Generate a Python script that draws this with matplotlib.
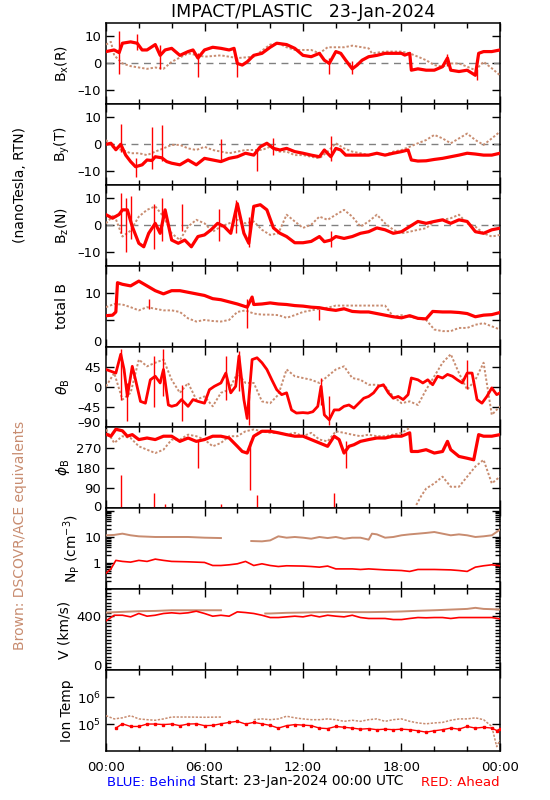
import numpy as np
import matplotlib
matplotlib.use('Agg')
import matplotlib.pyplot as plt
from matplotlib.ticker import MultipleLocator, NullLocator, LogLocator, FixedFormatter
from matplotlib.transforms import ScaledTranslation

nan = np.nan
RED = '#ff0000'
BROWN = '#c88c70'

# half-hour time grid (hours since 00:00 UTC)
hrs = [0, 0.5, 1, 1.5, 2, 2.5, 3, 3.5, 4, 4.5, 5, 5.5, 6, 6.5, 7, 7.5, 8, 8.5,
       9, 9.5, 10, 10.5, 11, 11.5, 12, 12.5, 13, 13.5, 14, 14.5, 15, 15.5, 16,
       16.5, 17, 17.5, 18, 18.5, 19, 19.5, 20, 20.5, 21, 21.5, 22, 22.5, 23,
       23.5, 24]

# ---- Bx (R) ----
bx_t = [0, 0.5, 0.8, 1, 1.5, 1.9, 2.2, 2.5, 3, 3.3, 3.6, 4, 4.5, 5, 5.3, 5.6, 6,
        6.5, 7, 7.5, 7.8, 8, 8.3, 8.6, 9, 9.5, 10, 10.4, 11, 11.5, 12, 12.5, 13,
        13.3, 13.6, 14, 14.3, 14.6, 15, 15.3, 15.6, 16, 16.5, 17, 17.5, 18, 18.2,
        18.5, 18.6, 19, 19.5, 20, 20.5, 20.8, 21, 21.5, 22, 22.5, 22.7, 23, 23.5, 24]
bx_red = [4.4, 5, 4, 7.5, 8, 7.5, 5, 5, 7, 3, 5, 5.6, 3, 4.4, 5, 2, 5, 6, 5.6, 5,
          5.6, 0, -0.6, 0.6, 3, 3.75, 6, 7.5, 7, 5.6, 3, 2.5, 3.75, 1.2, 0, 4.4,
          3.75, 1.2, -2, -0.6, 1.2, 2.5, 3, 3.75, 3.75, 3.75, 3.1, 3.75, -2.5, -2,
          -2.5, -2.5, -1.2, 2, -2.5, -3, -2.5, -4.4, 3.75, 4.4, 4.4, 5]
bx_bt = [0, 0.3, 0.5, 1, 1.5, 2, 2.5, 3, 3.5, 4, 5, 6, 7, 8, 9, 10, 10.5, 11, 11.5,
         12, 12.5, 13, 13.5, 14, 14.5, 15, 16, 16.2, 17, 18, 18.5, 19, 19.5, 20,
         20.5, 21, 21.5, 22, 22.5, 23, 23.5, 24]
bx_brown = [7, 8, 3, 0, -1, -1.5, -2, -1.5, -2, 0.6, 3.75, 2.5, 3, 2, 2.5, 7, 7.5,
            6, 5, 5, 5, 3.75, 6, 6, 6, 6.6, 5.6, 3.75, 4.4, 4.4, 3.75, 2.5, 1.2,
            -0.6, -1.2, 0, 0, -1.2, -2.5, 0.6, -1.8, -4.4]
bx_spikes = [(0.8, -4, 12), (1.9, 5, 11), (3.3, -2, 7), (5.6, -5, 4), (8.0, -5, 2),
             (13.6, -4, 2), (15.0, -4, 1), (20.8, -1, 3.5), (22.6, -6, -2)]

# ---- By (T) ----
by_t = [0, 0.3, 0.6, 0.9, 1.2, 1.5, 1.8, 2.2, 2.5, 2.8, 3, 3.4, 3.7, 4, 4.5, 5,
        5.5, 6, 6.5, 7, 7.5, 8, 8.5, 9, 9.4, 9.8, 10.2, 10.6, 11, 11.5, 12, 12.5,
        13, 13.3, 13.7, 14, 14.3, 14.6, 15, 15.5, 16, 16.5, 17, 17.5, 18, 18.4,
        18.6, 19, 19.5, 20, 20.5, 21, 21.5, 22, 22.5, 23, 23.5, 24]
by_red = [0, 0.4, -2, 0, -4, -6.4, -8.3, -7.6, -5.8, -6, -4.6, -5, -6.4, -7, -7.6,
          -5.8, -7.6, -5.2, -5.8, -6.4, -5.2, -4.6, -3.3, -4, -0.9, 0.4, -1.5,
          -2.1, -1.5, -2.7, -3.3, -4, -4.6, -2.1, -4.6, -1.5, -2.1, -4, -4, -4,
          -4, -3.3, -4, -3.3, -2.7, -2.1, -5.8, -6.2, -6.1, -5.6, -5.2, -4.6, -4,
          -3.3, -3.6, -4, -4, -3.3]
by_brown = [1.6, -1.5, -2.1, -3.3, -3.3, -4, -2.7, -1.5, -0.2, -0.2, -1.5, -2.1,
            -0.9, -2.1, -2.7, -3.3, -2.7, -2.1, -2.1, -2.1, -0.9, -2.7, -2.7, -4,
            -4, -4.6, -5.2, -2.7, 0.4, -1.5, -2.7, -3.3, -4, -3.3, -4, -2.7, -2.1,
            -0.9, 0.4, 1.6, 3.5, 2.2, 0.4, 2.2, 4, 1.6, -0.2, 2.2, 4.7]
by_spikes = [(0.9, -3, 7.7), (1.8, -12, -5), (2.8, -9, 6.5), (3.4, -6, 7),
             (7.0, -6, 2), (9.2, -10, -2), (10.2, -4, 2.2), (13.7, -6, 3)]

# ---- Bz (N) ----
bz_t = [0, 0.4, 0.8, 1, 1.3, 1.6, 2, 2.3, 2.6, 3, 3.3, 3.6, 4, 4.4, 4.8, 5.2, 5.6,
        6, 6.4, 6.8, 7.2, 7.6, 8, 8.4, 8.7, 9, 9.4, 9.8, 10.2, 10.6, 11, 11.5, 12,
        12.5, 13, 13.3, 13.7, 14, 14.5, 15, 15.5, 16, 16.5, 17, 17.5, 18, 18.5,
        19, 19.5, 20, 20.5, 21, 21.5, 22, 22.5, 23, 23.5, 24]
bz_red = [3.9, 2.6, 4, 5.7, 5.7, -0.5, -6.7, -8, -3, 0.7, -3, 5.7, -5.5, -6.7,
          -5.5, -8, -4.2, -3.6, -1.7, 0.7, -0.5, -3, 8, -3, -6.7, 7, 7.6, 5.7, -1,
          -3, -4.2, -6.5, -6.5, -6, -4.2, -6.1, -5.5, -4.2, -4.9, -4.2, -3, -2.4,
          -1, -1.7, -3, -2.4, -0.5, 1.4, 0.7, 1.4, 2, 0.7, 2, 1.4, -2.4, -3, -1.7,
          -1.1]
bz_brown = [0.7, 3.9, -4.2, -2, 3.2, 5.7, 7, 3.2, -3, -5.5, -0.5, 2, 0.7, -2.4,
            -0.5, 0.7, 2, 0.7, 1.4, -1.7, -3.6, -3, 3.9, 1.4, -1, 0.2, 3.2, 2, 3.9,
            5.7, 3.2, -0.5, 1.4, 3.9, 0.7, -1.7, -3, -2.4, -1.7, -1.1, 1.4, 2, 2.6,
            3.9, 0.7, -0.5, -3, -4.2, -3.6]
bz_spikes = [(0.9, -3, 12), (1.2, -10, 10), (1.5, -5, 11), (2.9, -9, 8),
             (3.4, -6, 10), (4.6, -2, 8), (6.9, -6, 6), (7.9, -3, 9.5),
             (8.7, -8, 3), (13.7, -8, -2)]

# ---- total B ----
bt_t = [0, 0.4, 0.6, 0.7, 1, 1.5, 2, 2.5, 3, 3.5, 4, 4.5, 5, 5.5, 6, 6.5, 7, 7.5,
        8, 8.3, 8.6, 8.9, 9, 9.5, 10, 10.5, 11, 11.5, 12, 12.5, 13, 13.5, 14,
        14.5, 15, 15.5, 16, 16.5, 17, 17.5, 18, 18.5, 19, 19.5, 19.9, 20.5, 21,
        21.5, 22, 22.5, 23, 23.5, 24]
bt_red = [5.8, 5.9, 6.5, 12, 11.7, 11.4, 12.3, 11.4, 10.5, 9.9, 10.5, 10.5, 10.2,
          9.9, 9.6, 9, 8.8, 8.4, 8, 7.7, 7.4, 9.3, 7.9, 8, 8.2, 8, 7.9, 7.7, 7.6,
          7.4, 7.3, 7, 6.8, 7.1, 6.6, 6.5, 6.5, 6.2, 5.9, 5.6, 5.4, 5.8, 5.3, 5.2,
          6.6, 6.5, 6.5, 6.4, 6.2, 5.6, 5.9, 6, 6.4]
bt_brown = [7.4, 8, 7.9, 7.4, 6.8, 7.4, 7.1, 6.8, 6.8, 6.5, 5.3, 4.7, 5, 4.8, 4.7,
            5, 6.5, 6.8, 6.2, 6, 6, 5.9, 5.4, 5.9, 6.5, 6.8, 7.1, 7.3, 7.7, 7.7,
            7.7, 7.7, 7.7, 7.7, 7.7, 5.6, 5.9, 5.6, 5.3, 5, 3.2, 2.9, 2.9, 3.5, 3.5,
            4.1, 4.4, 3.8, 3.2]
bt_spikes = [(2.6, 7, 9), (8.6, 3.5, 9), (13.0, 5, 7)]

# ---- theta_B ----
th_t = [0, 0.3, 0.6, 0.9, 1.1, 1.3, 1.6, 1.8, 2.1, 2.4, 2.7, 3, 3.3, 3.5, 3.8, 4,
        4.3, 4.6, 5, 5.3, 5.6, 6, 6.3, 6.6, 7, 7.3, 7.6, 7.9, 8.1, 8.4, 8.6, 8.9,
        9.2, 9.5, 9.8, 10.1, 10.4, 10.7, 11, 11.3, 11.6, 12, 12.3, 12.6, 12.9,
        13.1, 13.3, 13.6, 13.9, 14.2, 14.5, 14.8, 15.1, 15.4, 15.7, 16, 16.3,
        16.6, 16.9, 17.2, 17.5, 17.8, 18.1, 18.4, 18.6, 19, 19.3, 19.6, 19.9,
        20.2, 20.5, 20.8, 21.1, 21.4, 21.7, 22, 22.3, 22.6, 22.9, 23.2, 23.5,
        23.8, 24]
th_red = [39, 35, 31, 73, 39, -21, 46, 16, -32, -36, 16, 24, 9, 39, -40, -43, -40,
          -28, -43, -28, -32, -36, -6, 1.5, 9, 31, -13, 1.5, 69, -28, -70, 61, 65,
          54, 39, 16, -6, -17, -13, -51, -58, -57, -58, -55, -43, 1.5, -62, -73,
          -51, -51, -43, -40, -47, -36, -25, -21, -13, 1.5, 5, -13, -25, -21, -28,
          -17, 20, 16, 9, 16, 5, 24, 20, 28, 24, 16, 9, 31, 31, -28, -36, -21, -2,
          -17, -13]
th_brown = [1.5, 31, -28, -13, 61, 46, 54, 61, 16, -13, 9, -28, -21, -43, -13, -6,
            31, 9, 9, -32, -36, -17, 39, 24, 20, 16, 9, 24, 39, 46, 20, 16, 5, 5,
            1.5, -21, -36, -32, -40, -6, 24, 54, 73, 31, -6, 16, 54, -62, -43]
th_spikes = [(0.9, -30, 85), (1.3, -75, 10), (2.9, -45, 70), (3.5, -20, 85),
             (4.6, -75, 5), (7.3, -30, 70), (8.1, -10, 80), (8.7, -85, -20),
             (13.1, -40, 20), (13.6, -85, -20), (22.0, -5, 60)]

# ---- phi_B ----
ph_t = [0, 0.3, 0.6, 1, 1.3, 1.6, 2, 2.5, 3, 3.5, 4, 4.5, 5, 5.5, 6, 6.5, 7, 7.5,
        8, 8.3, 8.6, 9, 9.5, 10, 10.5, 11, 11.5, 12, 12.5, 13, 13.5, 13.9, 14.2,
        14.5, 14.8, 15.1, 15.5, 16, 16.5, 17, 17.5, 18, 18.5, 18.6, 19, 19.5, 20,
        20.5, 20.8, 21, 21.5, 22, 22.4, 22.7, 23, 23.5, 24]
ph_red = [330, 321, 352, 345, 321, 328, 306, 313, 306, 321, 321, 298, 313, 298,
          306, 321, 321, 313, 276, 253, 246, 321, 343, 343, 336, 328, 321, 321,
          306, 291, 276, 321, 306, 246, 276, 283, 298, 306, 313, 313, 321, 321,
          336, 253, 253, 261, 246, 253, 298, 261, 231, 223, 216, 328, 321, 321, 328]
ph_bt = [0, 0.5, 1, 1.5, 2, 2.5, 3, 3.5, 4, 4.5, 5, 5.5, 6, 6.5, 7, 7.5, 8, 8.5, 9,
         9.5, 10, 10.5, 11, 11.5, 12, 12.5, 13, 13.5, 14, 14.5, 15, 15.5, 16, 16.5,
         17, 17.5, 18, 18.5, 18.7, 18.9, 19.2, 19.5, 20, 20.5, 21, 21.5, 22, 22.5,
         23, 23.5, 24]
ph_brown = [351, 291, 321, 313, 276, 261, 246, 261, 306, 306, 328, 321, 306, 276,
            291, 321, 321, 343, 351, 343, 336, 336, 328, 336, 321, 336, 306, 298,
            343, 336, 328, 321, 328, 321, 321, 328, 336, 358, nan, 15, 55, 88, 111,
            141, 96, 96, 141, 186, 216, 111, 141]
ph_spikes = [(0.9, 0, 150), (2.9, 0, 70), (3.6, 0, 20), (5.6, 180, 300),
             (7.0, 0, 20), (8.8, 80, 300), (9.2, 0, 60), (13.9, 0, 70),
             (14.6, 180, 300)]

# ---- proton density ----
np_t = [0, 0.3, 0.6, 1, 1.5, 2, 2.5, 3, 3.5, 4, 5, 6, 6.5, 7, 7.5, 8, 8.5, 9, 9.5,
        10, 10.5, 11, 12, 12.5, 13, 13.5, 14, 15, 15.5, 16, 17, 18, 18.5, 19, 20,
        21, 21.5, 22, 22.5, 23, 23.5, 24]
np_red = [0.41, 0.6, 1.27, 1.16, 1.09, 1.27, 1.16, 1.42, 1.27, 1.16, 1.12, 1.06,
          0.81, 0.81, 0.86, 0.94, 1.16, 0.81, 0.94, 0.81, 0.74, 0.79, 0.77, 0.74,
          0.70, 0.77, 0.6, 0.6, 0.57, 0.6, 0.55, 0.52, 0.48, 0.57, 0.57, 0.55,
          0.52, 0.48, 0.7, 0.79, 0.86, 0.79]
np_bt = [0, 0.5, 1, 1.5, 2, 3, 4, 5, 6, 7, 8, 8.85, 9.5, 10, 10.5, 11, 11.5, 12,
         12.5, 13, 13.5, 14, 14.5, 15, 15.5, 16, 16.2, 16.5, 17, 17.5, 18, 18.5,
         19, 19.5, 20, 20.5, 21, 21.5, 22, 22.5, 23, 23.5, 24]
np_brown = [11.6, 12, 13.4, 11.6, 10.6, 10, 10, 10, 9.4, 9.1, nan, 7, 6.8, 7.4,
            10.6, 9.4, 10, 9.4, 8.6, 10, 9.1, 10, 8.6, 9.4, 9.4, 7.9, 13.4, 12.6,
            9.4, 10, 11.6, 12.6, 13.4, 14.3, 15.5, 13.4, 11.6, 12.6, 11.6, 10, 10.6,
            11.6, 19.1]

# ---- bulk speed ----
v_red = [365, 407, 407, 395, 420, 400, 407, 420, 425, 420, 425, 437, 420, 400,
         407, 400, 432, 427, 420, 407, 390, 390, 395, 400, 395, 407, 395, 407, 400,
         395, 407, 390, 383, 383, 383, 375, 375, 383, 390, 388, 390, 390, 383, 390,
         390, 390, 390, 390, 380]
v_bt = [0, 1, 2, 3, 4, 5, 6, 7, 8, 9.7, 10, 11, 12, 13, 14, 15, 16, 17, 18, 19, 20,
        21, 22, 22.5, 23, 23.5, 24]
v_brown = [427, 432, 437, 439, 444, 444, 444, 444, nan, 420, 420, 425, 427, 430,
           432, 430, 430, 432, 435, 440, 444, 449, 454, 462, 454, 452, 449]

# ---- ion temperature ----
tp_t = [0.6, 1, 1.5, 2, 2.5, 3, 3.5, 4, 4.5, 5, 5.5, 6, 6.5, 7, 7.5, 8, 8.5, 9, 9.5,
        10, 10.5, 11, 11.5, 12, 12.5, 13, 13.5, 14, 14.5, 15, 15.5, 16, 16.5, 17,
        17.5, 18, 18.5, 19, 19.5, 20, 20.5, 21, 21.5, 22, 22.5, 23, 23.5, 23.8, 24]
tp_red = [70800, 102000, 81300, 81300, 100000, 100000, 95500, 100000, 87100,
          100000, 102000, 87100, 89100, 102000, 115000, 126000, 100000, 115000,
          102000, 89100, 70800, 87100, 95500, 91200, 87100, 70800, 67600, 81300,
          75900, 70800, 64600, 67600, 61700, 64600, 61700, 64600, 61700, 56200,
          50100, 56200, 61700, 70800, 64600, 81300, 70800, 75900, 70800, 57500,
          64600]
tp_bt = [0, 0.5, 1, 1.5, 2, 2.5, 3, 3.5, 4, 5, 6, 7, 8, 9, 9.5, 10, 10.5, 11, 11.5,
         12, 12.5, 13, 13.5, 14, 14.5, 15, 15.5, 16, 16.5, 17, 17.5, 18, 18.5, 19,
         19.5, 20, 20.5, 21, 21.5, 22, 22.5, 23, 23.5, 23.8, 24]
tp_brown = [204000, 155000, 170000, 204000, 155000, 145000, 138000, 155000,
            182000, 182000, 178000, 182000, nan, 145000, 155000, 145000, 155000,
            195000, 170000, 155000, 145000, 145000, 155000, 145000, 126000, 138000,
            126000, 145000, 155000, 126000, 145000, 155000, 126000, 110000, 102000,
            110000, 115000, 138000, 155000, 155000, 170000, 145000, 81300, 14500,
            25700]

hour_ticks = [0, 6, 12, 18, 24]
hour_labels = ['00:00', '06:00', '12:00', '18:00', '00:00']


def style(ax, ylim, yticks, ylabels):
    ax.set_xlim(0, 24)
    ax.set_ylim(*ylim)
    ax.set_yticks(yticks)
    ax.set_yticklabels(ylabels)
    ax.set_xticks(hour_ticks)
    ax.xaxis.set_minor_locator(MultipleLocator(2))
    ax.tick_params(which='both', direction='in', top=True, right=True,
                   labelsize=9.5, width=1)
    ax.tick_params(which='major', length=6)
    ax.tick_params(which='minor', length=3.5)
    for s in ax.spines.values():
        s.set_linewidth(1.1)


def raise_first_label(ax, pts=4):
    # IDL nudges the bottom tick label up inside the panel
    lab = ax.yaxis.get_major_ticks()[0].label1
    lab.set_transform(lab.get_transform() + ScaledTranslation(0, pts / 72, fig.dpi_scale_trans))


def draw_red(ax, t, v, spikes=None, lw=2.3):
    ax.plot(t, v, color=RED, lw=lw, zorder=4)
    if spikes:
        ax.vlines([s[0] for s in spikes], [s[1] for s in spikes],
                  [s[2] for s in spikes], color=RED, lw=1, zorder=4)


def draw_brown(ax, t, v):
    ax.plot(t, v, color=BROWN, lw=1.4, ls=(0, (1.2, 1)), zorder=3)


fig = plt.figure(figsize=(5.5, 8), dpi=100)
W, H = 550.0, 800.0
x0, x1 = 106, 500
top, bot = 23, 751
ph = (bot - top) / 9.0
axes = []
for i in range(9):
    y_top = top + i * ph
    ax = fig.add_axes([x0 / W, 1 - (y_top + ph) / H, (x1 - x0) / W, ph / H])
    axes.append(ax)

# B components
comp = [(bx_t, bx_red, bx_bt, bx_brown, bx_spikes),
        (by_t, by_red, hrs, by_brown, by_spikes),
        (bz_t, bz_red, hrs, bz_brown, bz_spikes)]
for ax, (tr, vr, tb, vb, sp) in zip(axes[:3], comp):
    ax.axhline(0, color='#808080', lw=1, ls=(0, (5, 4)), zorder=2)
    draw_brown(ax, tb, vb)
    draw_red(ax, tr, vr, sp)
    style(ax, (-15, 15), [-10, 0, 10], ['\u201310', '0', '10'])

ax = axes[3]
draw_brown(ax, hrs, bt_brown)
draw_red(ax, bt_t, bt_red, bt_spikes)
style(ax, (0, 15.2), [0, 5, 10], ['0', '', '10'])
raise_first_label(ax)

ax = axes[4]
draw_brown(ax, hrs, th_brown)
draw_red(ax, th_t, th_red, th_spikes, lw=2)
style(ax, (-90, 90), [-90, -45, 0, 45], ['\u201390', '\u201345', '0', '45'])
raise_first_label(ax)

ax = axes[5]
draw_brown(ax, ph_bt, ph_brown)
draw_red(ax, ph_t, ph_red, ph_spikes)
style(ax, (0, 360), [0, 90, 180, 270], ['0', '90', '180', '270'])
raise_first_label(ax, 2)

ax = axes[6]
ax.set_yscale('log')
ax.plot(np_bt, np_brown, color=BROWN, lw=1.4, zorder=3)
ax.plot(np_t, np_red, color=RED, lw=1.2, zorder=4)
style(ax, (0.1, 125), [0.1, 1, 10, 100], ['', '1', '10', ''])
ax.yaxis.set_minor_locator(LogLocator(base=10, subs=np.arange(2, 10)))
ax.yaxis.set_minor_formatter(FixedFormatter([]))

ax = axes[7]
ax.plot(v_bt, v_brown, color=BROWN, lw=1.4, zorder=3)
ax.plot(hrs, v_red, color=RED, lw=1.2, zorder=4)
style(ax, (0, 600), [0, 400], ['0', '400'])
ax.yaxis.set_minor_locator(MultipleLocator(25))
raise_first_label(ax)

ax = axes[8]
ax.set_yscale('log')
ax.plot(tp_bt, tp_brown, color=BROWN, lw=1.1, ls=(0, (1.5, 1)), zorder=3)
ax.plot(tp_t, tp_red, color=RED, lw=1, marker='s', ms=2, zorder=4)
style(ax, (1e4, 1e7), [1e5, 1e6], ['$10^5$', '$10^6$'])
ax.yaxis.set_minor_locator(NullLocator())

for ax in axes[:-1]:
    ax.set_xticklabels([])
axes[-1].set_xticklabels(hour_labels)
axes[-1].tick_params(axis='x', pad=7)

# y labels
ylabels = ['B$_{\\rm x}$(R)', 'B$_{\\rm y}$(T)', 'B$_{\\rm z}$(N)', 'total B',
           '$\\theta_{\\rm B}$', '$\\phi_{\\rm B}$', 'N$_{\\rm P}$ (cm$^{-3}$)',
           'V (km/s)', 'Ion Temp']
label_x = [62, 62, 62, 62, 63, 63, 72, 64, 67]
for i, (lab, lx) in enumerate(zip(ylabels, label_x)):
    yc = top + (i + 0.5) * ph
    fig.text(lx / W, 1 - yc / H, lab, rotation=90, ha='center', va='center',
             fontsize=10)

fig.text(303 / W, 1 - 12 / H, 'IMPACT/PLASTIC   23-Jan-2024', ha='center',
         va='center', fontsize=12.5)
fig.text(20 / W, 1 - 185 / H, '(nanoTesla, RTN)', rotation=90, ha='center',
         va='center', fontsize=10)
fig.text(20 / W, 1 - 535 / H, 'Brown: DSCOVR/ACE equivalents', rotation=90,
         ha='center', va='center', fontsize=10, color=BROWN)
fig.text(107 / W, 1 - 783 / H, 'BLUE: Behind', ha='left', va='center',
         fontsize=9.5, color='#0000ff')
fig.text(302 / W, 1 - 781 / H, 'Start: 23-Jan-2024 00:00 UTC', ha='center',
         va='center', fontsize=10)
fig.text(500 / W, 1 - 783 / H, 'RED: Ahead', ha='right', va='center',
         fontsize=9.5, color=RED)

fig.savefig('out.png', dpi=100)
